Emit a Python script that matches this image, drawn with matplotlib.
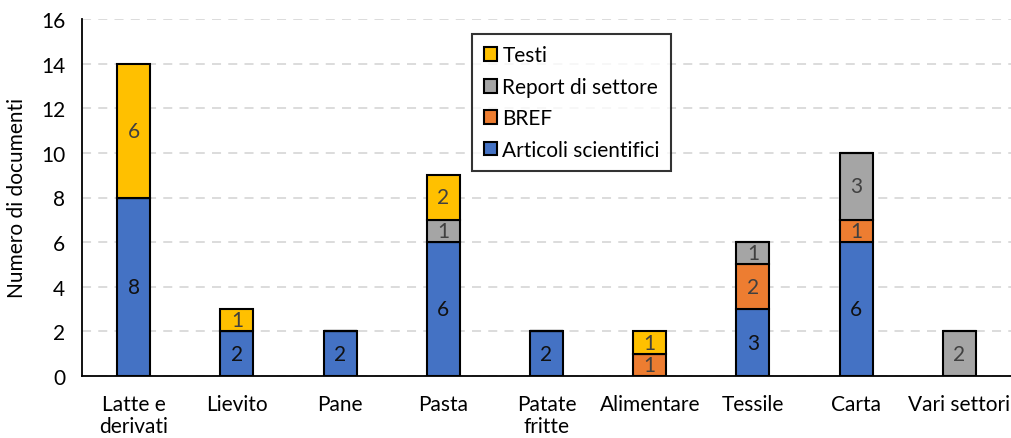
import matplotlib
matplotlib.use("Agg")
import matplotlib.pyplot as plt
import numpy as np

plt.rcParams['font.family'] = ['Lato', 'DejaVu Sans']

categorie = ["Latte e\nderivati", "Lievito", "Pane", "Pasta", "Patate\nfritte",
             "Alimentare", "Tessile", "Carta", "Vari settori"]
articoli = [8, 2, 2, 6, 2, 0, 3, 6, 0]
bref = [0, 0, 0, 0, 0, 1, 2, 1, 0]
report = [0, 0, 0, 1, 0, 0, 1, 3, 2]
testi = [6, 1, 0, 2, 0, 1, 0, 0, 0]

serie = [
    ("Articoli scientifici", articoli, "#4472C4", "#111111"),
    ("BREF", bref, "#ED7D31", "#404040"),
    ("Report di settore", report, "#A5A5A5", "#404040"),
    ("Testi", testi, "#FFC000", "#404040"),
]

fig = plt.figure(figsize=(10.11, 4.39), dpi=100)
ax = fig.add_axes([82 / 1011, 62 / 439, 929 / 1011, 357 / 439])

x = np.arange(len(categorie))
base = np.zeros(len(categorie))
for nome, vals, col, txtcol in serie:
    vals = np.array(vals, dtype=float)
    ax.bar(x, vals, 0.32, bottom=base, color=col, edgecolor="black",
           linewidth=1.5, label=nome, zorder=3)
    for xi, b, v in zip(x, base, vals):
        if v > 0:
            ax.text(xi, b + v / 2, f"{int(v)}", ha="center", va="center",
                    fontsize=15, color=txtcol, zorder=4)
    base += vals

ax.set_xlim(-0.5, 8.5)
ax.set_ylim(0, 16)
ax.set_yticks(range(0, 17, 2))
ax.set_xticks(x)
ax.set_xticklabels(categorie, fontsize=15, linespacing=1.1)
ax.tick_params(axis="y", labelsize=15, length=0, pad=12)
ax.tick_params(axis="x", length=0, pad=13)
ax.set_ylabel("Numero di documenti", fontsize=15, labelpad=10)

ax.yaxis.grid(True, color="#D9D9D9", linestyle=(0, (5, 4)), linewidth=1.3, zorder=0)
ax.spines["top"].set_visible(False)
ax.spines["right"].set_visible(False)
ax.spines["left"].set_linewidth(1.3)
ax.spines["bottom"].set_linewidth(1.3)

h, l = ax.get_legend_handles_labels()
leg = ax.legend(h[::-1], l[::-1], loc="upper left", bbox_to_anchor=(0.42, 0.958),
                borderaxespad=0, fontsize=15, frameon=True, fancybox=False,
                edgecolor="black", handlelength=0.65, handleheight=0.65,
                handletextpad=0.25, labelspacing=0.55, borderpad=0.55)
leg.get_frame().set_linewidth(1.5)

fig.savefig("out.png", dpi=100)
